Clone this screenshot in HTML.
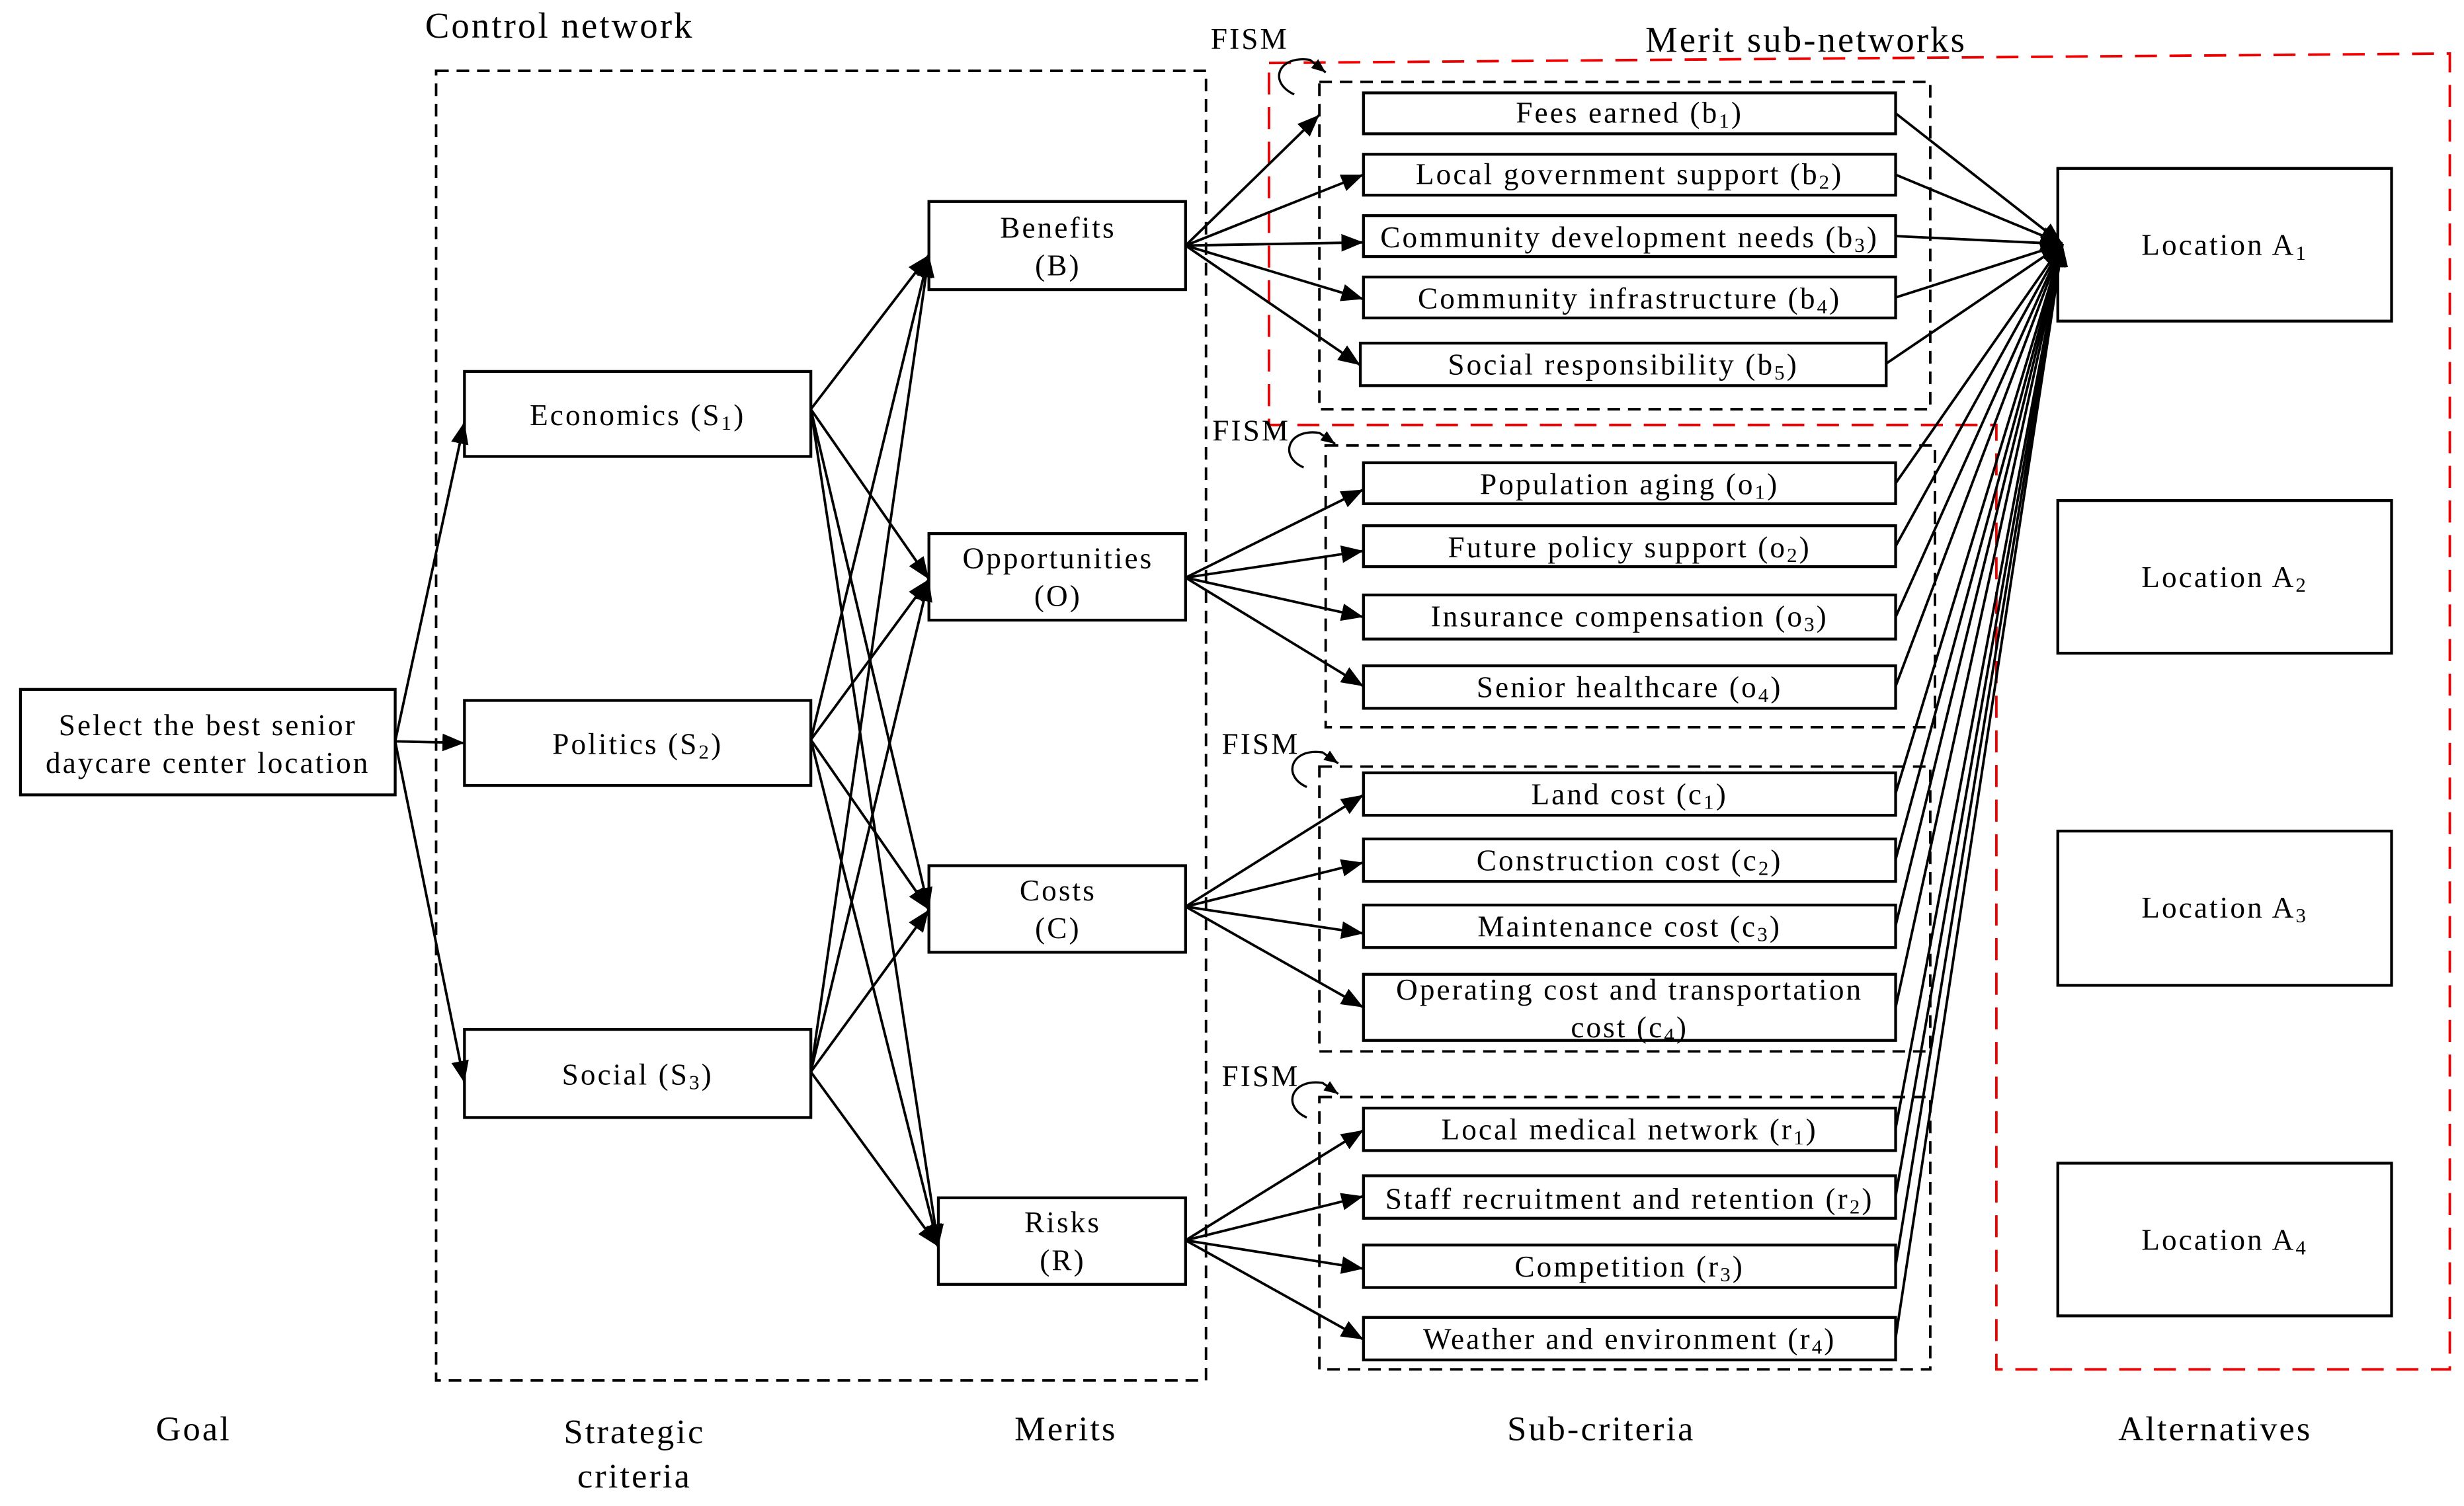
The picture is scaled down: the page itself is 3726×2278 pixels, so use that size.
<!DOCTYPE html>
<html><head><meta charset="utf-8"><style>
html,body{margin:0;padding:0;background:#fff;}
svg{display:block;}
text{font-family:"Liberation Serif",serif;font-size:19px;letter-spacing:1.3px;fill:#000;}
.big{font-size:22px;letter-spacing:1.3px;}
</style></head><body>
<svg width="3726" height="2278" viewBox="0 0 1565 956.8" xmlns="http://www.w3.org/2000/svg">
<defs>
<marker id="a" viewBox="0 0 10 10" refX="10" refY="5" markerWidth="14" markerHeight="14" markerUnits="userSpaceOnUse" orient="auto"><path d="M0,1 L10,5 L0,9 z" fill="#000"/></marker>
<marker id="s" viewBox="0 0 10 10" refX="10" refY="5" markerWidth="9" markerHeight="9" markerUnits="userSpaceOnUse" orient="auto"><path d="M0,1 L10,5 L0,9 z" fill="#000"/></marker>
</defs>
<g fill="none" stroke="#000" stroke-width="1.6" stroke-dasharray="8,5">
<rect x="277" y="45" width="489" height="832"/>
<rect x="838" y="52" width="388" height="208"/>
<rect x="842" y="283" width="387" height="179"/>
<rect x="838" y="487" width="388" height="181"/>
<rect x="838" y="697" width="388" height="173"/>
</g>
<path d="M806,40 L1556,34 L1556,870 L1268,870 L1268,270 L806,270 Z" fill="none" stroke="#e00" stroke-width="1.6" stroke-dasharray="14,8"/>
<text x="270" y="24" class="big" style="font-size:23px">Control network</text>
<text x="1045" y="33" class="big" style="font-size:23px">Merit sub-networks</text>
<g fill="#fff" stroke="#000" stroke-width="1.8">
<rect x="13" y="438" width="238" height="67"/>
<rect x="295" y="236" width="220" height="54"/>
<rect x="295" y="445" width="220" height="54"/>
<rect x="295" y="654" width="220" height="56"/>
<rect x="590" y="128" width="163" height="56"/>
<rect x="590" y="339" width="163" height="55"/>
<rect x="590" y="550" width="163" height="55"/>
<rect x="596" y="761" width="157" height="55"/>
<rect x="866" y="59" width="338" height="26"/>
<rect x="866" y="98" width="338" height="26"/>
<rect x="866" y="137" width="338" height="26"/>
<rect x="866" y="176" width="338" height="26"/>
<rect x="864" y="218" width="334" height="27"/>
<rect x="866" y="294" width="338" height="26"/>
<rect x="866" y="334" width="338" height="26"/>
<rect x="866" y="378" width="338" height="28"/>
<rect x="866" y="423" width="338" height="27"/>
<rect x="866" y="491" width="338" height="27"/>
<rect x="866" y="533" width="338" height="27"/>
<rect x="866" y="575" width="338" height="27"/>
<rect x="866" y="619" width="338" height="42"/>
<rect x="866" y="704" width="338" height="27"/>
<rect x="866" y="747" width="338" height="27"/>
<rect x="866" y="791" width="338" height="27"/>
<rect x="866" y="837" width="338" height="27"/>
<rect x="1307" y="107" width="212" height="97"/>
<rect x="1307" y="318" width="212" height="97"/>
<rect x="1307" y="528" width="212" height="98"/>
<rect x="1307" y="739" width="212" height="97"/>
</g>
<g stroke="#000" stroke-width="1.6" marker-end="url(#a)">
<line x1="251" y1="471" x2="295" y2="268"/><line x1="251" y1="471" x2="295" y2="472"/><line x1="251" y1="471" x2="295" y2="688"/>
<line x1="515" y1="260" x2="590" y2="162"/><line x1="515" y1="260" x2="590" y2="368"/><line x1="515" y1="260" x2="590" y2="578"/><line x1="515" y1="260" x2="596" y2="792"/>
<line x1="515" y1="470" x2="590" y2="162"/><line x1="515" y1="470" x2="590" y2="368"/><line x1="515" y1="470" x2="590" y2="578"/><line x1="515" y1="470" x2="596" y2="792"/>
<line x1="515" y1="681" x2="590" y2="162"/><line x1="515" y1="681" x2="590" y2="368"/><line x1="515" y1="681" x2="590" y2="578"/><line x1="515" y1="681" x2="596" y2="792"/>
<line x1="753" y1="156" x2="838" y2="73"/><line x1="753" y1="156" x2="866" y2="111"/><line x1="753" y1="156" x2="866" y2="154"/><line x1="753" y1="156" x2="866" y2="190"/><line x1="753" y1="156" x2="864" y2="232"/>
<line x1="753" y1="367" x2="866" y2="311"/><line x1="753" y1="367" x2="866" y2="350"/><line x1="753" y1="367" x2="866" y2="392"/><line x1="753" y1="367" x2="866" y2="436"/>
<line x1="753" y1="576" x2="866" y2="505"/><line x1="753" y1="576" x2="866" y2="548"/><line x1="753" y1="576" x2="866" y2="593"/><line x1="753" y1="576" x2="866" y2="640"/>
<line x1="753" y1="788" x2="866" y2="718"/><line x1="753" y1="788" x2="866" y2="760"/><line x1="753" y1="788" x2="866" y2="806"/><line x1="753" y1="788" x2="866" y2="851"/>
</g>
<g stroke="#000" stroke-width="1.6" marker-end="url(#a)">
<line x1="1204" y1="72" x2="1310" y2="155"/><line x1="1204" y1="111" x2="1310" y2="155"/><line x1="1204" y1="150" x2="1310" y2="155"/><line x1="1204" y1="189" x2="1310" y2="155"/><line x1="1198" y1="231" x2="1310" y2="155"/>
<line x1="1204" y1="307" x2="1310" y2="155"/><line x1="1204" y1="347" x2="1310" y2="155"/><line x1="1204" y1="392" x2="1310" y2="155"/><line x1="1204" y1="436" x2="1310" y2="155"/>
<line x1="1204" y1="504" x2="1310" y2="155"/><line x1="1204" y1="546" x2="1310" y2="155"/><line x1="1204" y1="588" x2="1310" y2="155"/><line x1="1204" y1="640" x2="1310" y2="155"/>
<line x1="1204" y1="717" x2="1310" y2="155"/><line x1="1204" y1="760" x2="1310" y2="155"/><line x1="1204" y1="804" x2="1310" y2="155"/><line x1="1204" y1="850" x2="1310" y2="155"/>
</g>
<g fill="none" stroke="#000" stroke-width="1.4" marker-end="url(#s)">
<path d="M822,60 C805,52 812,35 832,38 L842,46"/>
<path d="M828,297 C812,290 818,272 838,275 L848,282"/>
<path d="M830,500 C814,493 820,475 840,478 L850,485"/>
<path d="M830,710 C814,703 820,685 840,688 L850,695"/>
</g>
<text x="769" y="31">FISM</text>
<text x="770" y="280">FISM</text>
<text x="776" y="479">FISM</text>
<text x="776" y="690">FISM</text>
<g text-anchor="middle">
<text x="132" y="467">Select the best senior</text>
<text x="132" y="491">daycare center location</text>
<text x="405" y="270">Economics (S<tspan font-size="13" dy="3">1</tspan><tspan dy="-3">)</tspan></text>
<text x="405" y="479">Politics (S<tspan font-size="13" dy="3">2</tspan><tspan dy="-3">)</tspan></text>
<text x="405" y="689">Social (S<tspan font-size="13" dy="3">3</tspan><tspan dy="-3">)</tspan></text>
<text x="672" y="151">Benefits</text><text x="672" y="175">(B)</text>
<text x="672" y="361">Opportunities</text><text x="672" y="385">(O)</text>
<text x="672" y="572">Costs</text><text x="672" y="596">(C)</text>
<text x="675" y="783">Risks</text><text x="675" y="807">(R)</text>
<text x="1035" y="78">Fees earned (b<tspan font-size="13" dy="3">1</tspan><tspan dy="-3">)</tspan></text>
<text x="1035" y="117">Local government support (b<tspan font-size="13" dy="3">2</tspan><tspan dy="-3">)</tspan></text>
<text x="1035" y="157">Community development needs (b<tspan font-size="13" dy="3">3</tspan><tspan dy="-3">)</tspan></text>
<text x="1035" y="196">Community infrastructure (b<tspan font-size="13" dy="3">4</tspan><tspan dy="-3">)</tspan></text>
<text x="1031" y="238">Social responsibility (b<tspan font-size="13" dy="3">5</tspan><tspan dy="-3">)</tspan></text>
<text x="1035" y="314">Population aging (o<tspan font-size="13" dy="3">1</tspan><tspan dy="-3">)</tspan></text>
<text x="1035" y="354">Future policy support (o<tspan font-size="13" dy="3">2</tspan><tspan dy="-3">)</tspan></text>
<text x="1035" y="398">Insurance compensation (o<tspan font-size="13" dy="3">3</tspan><tspan dy="-3">)</tspan></text>
<text x="1035" y="443">Senior healthcare (o<tspan font-size="13" dy="3">4</tspan><tspan dy="-3">)</tspan></text>
<text x="1035" y="511">Land cost (c<tspan font-size="13" dy="3">1</tspan><tspan dy="-3">)</tspan></text>
<text x="1035" y="553">Construction cost (c<tspan font-size="13" dy="3">2</tspan><tspan dy="-3">)</tspan></text>
<text x="1035" y="595">Maintenance cost (c<tspan font-size="13" dy="3">3</tspan><tspan dy="-3">)</tspan></text>
<text x="1035" y="635">Operating cost and transportation</text>
<text x="1035" y="659">cost (c<tspan font-size="13" dy="3">4</tspan><tspan dy="-3">)</tspan></text>
<text x="1035" y="724">Local medical network (r<tspan font-size="13" dy="3">1</tspan><tspan dy="-3">)</tspan></text>
<text x="1035" y="768">Staff recruitment and retention (r<tspan font-size="13" dy="3">2</tspan><tspan dy="-3">)</tspan></text>
<text x="1035" y="811">Competition (r<tspan font-size="13" dy="3">3</tspan><tspan dy="-3">)</tspan></text>
<text x="1035" y="857">Weather and environment (r<tspan font-size="13" dy="3">4</tspan><tspan dy="-3">)</tspan></text>
<text x="1413" y="162">Location A<tspan font-size="13" dy="3">1</tspan></text>
<text x="1413" y="373">Location A<tspan font-size="13" dy="3">2</tspan></text>
<text x="1413" y="583">Location A<tspan font-size="13" dy="3">3</tspan></text>
<text x="1413" y="794">Location A<tspan font-size="13" dy="3">4</tspan></text>
<text x="123" y="915" class="big">Goal</text>
<text x="403" y="917" class="big">Strategic</text>
<text x="403" y="945" class="big">criteria</text>
<text x="677" y="915" class="big">Merits</text>
<text x="1017" y="915" class="big">Sub-criteria</text>
<text x="1407" y="915" class="big">Alternatives</text>
</g>
</svg>
</body></html>
